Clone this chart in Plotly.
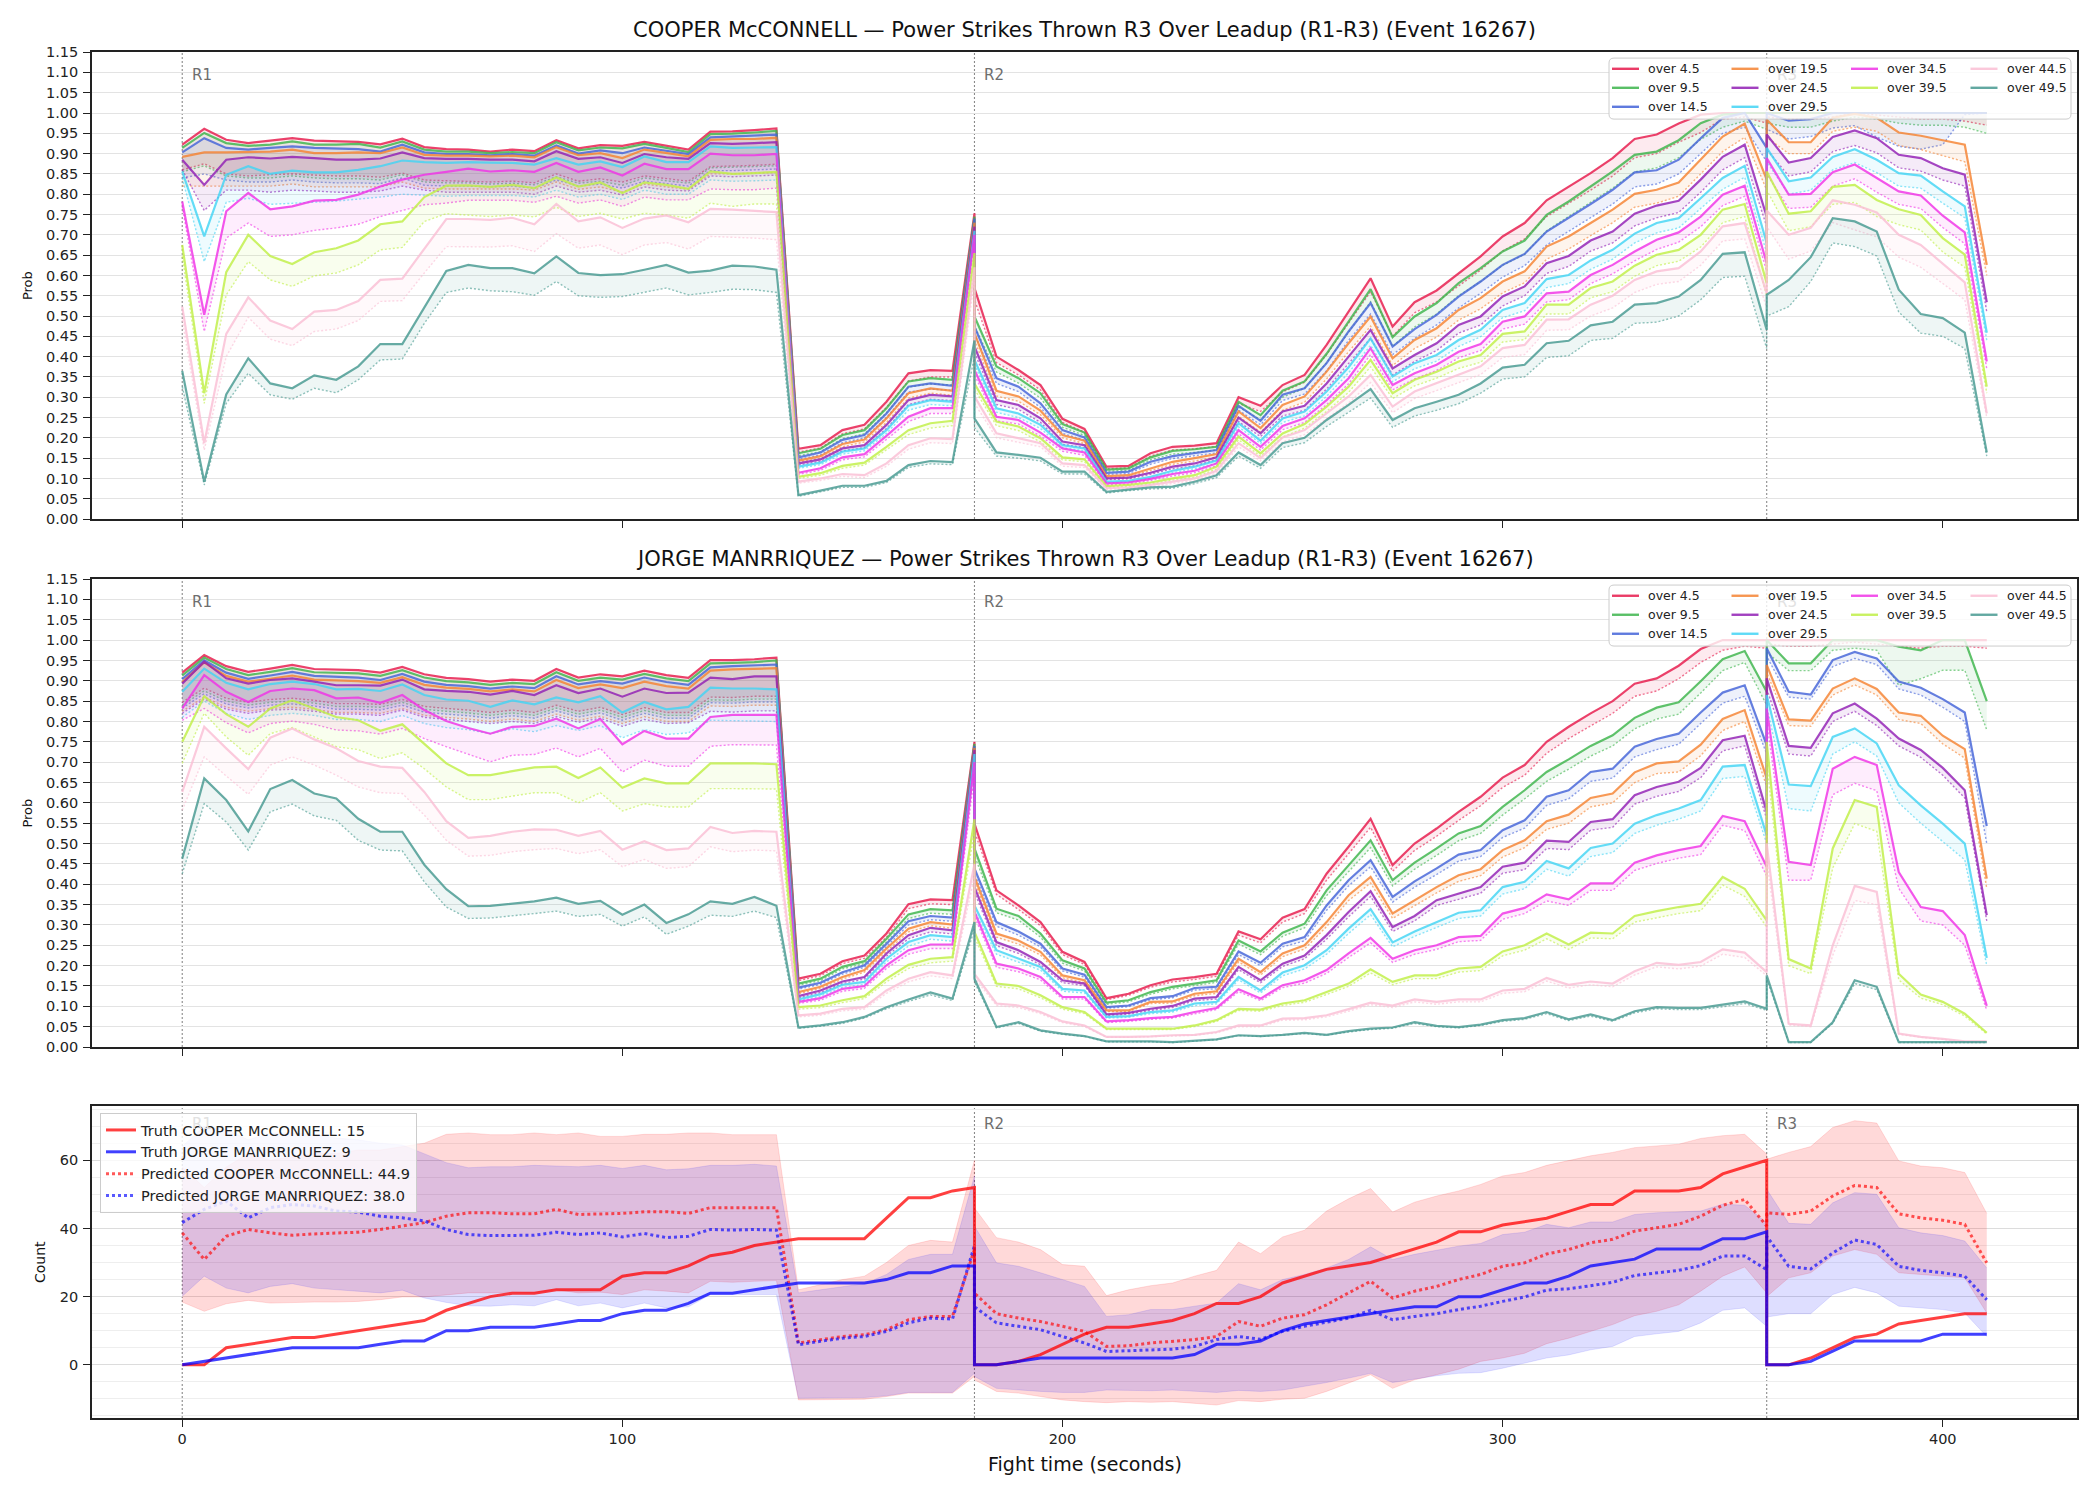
import plotly.graph_objects as go

# ---------------- data ----------------
T = [0,5,10,15,20,25,30,35,40,45,50,55,60,65,70,75,80,85,90,95,100,105,110,115,120,125,130,135,140,145,150,155,160,165,170,175,180,
     180,185,190,195,200,205,210,215,220,225,230,235,240,245,250,255,260,265,270,275,280,285,290,295,300,305,310,315,320,325,330,335,340,345,350,355,360,
     360,365,370,375,380,385,390,395,400,405,410]

THRESHOLDS = ["over 4.5", "over 9.5", "over 14.5", "over 19.5", "over 24.5",
              "over 29.5", "over 34.5", "over 39.5", "over 44.5", "over 49.5"]
COLORS = ["#e6194b", "#3cb44b", "#4363d8", "#f58231", "#911eb4",
          "#42d4f4", "#f032e6", "#bfef45", "#fabed4", "#469990"]

# ---- COOPER McCONNELL (top panel): solid = model prob, dotted = reference prob ----
c_s45 = [.922,.961,.934,.926,.932,.938,.932,.930,.929,.923,.937,.916,.911,.910,.905,.910,.906,.933,.913,.921,.919,.929,.919,.910,.954,.955,.958,.962,.173,.182,.219,.232,.289,.359,.367,.365,.753,
         .569,.400,.367,.330,.247,.222,.129,.131,.162,.178,.181,.187,.300,.279,.330,.355,.429,.511,.593,.474,.534,.563,.606,.647,.696,.729,.785,.819,.852,.889,.936,.947,.974,.996,1.0,1.0,1.0,
         1.0,1.0,1.0,1.0,1.0,1.0,1.0,1.0,1.0,1.0,1.0]
c_s95 = [.914,.951,.926,.919,.922,.930,.922,.922,.924,.915,.930,.910,.905,.905,.901,.904,.901,.928,.908,.915,.913,.924,.914,.904,.948,.949,.952,.956,.162,.173,.207,.219,.273,.339,.347,.343,.745,
         .499,.376,.347,.310,.234,.213,.122,.125,.152,.168,.172,.178,.289,.256,.316,.339,.407,.486,.566,.448,.499,.532,.581,.618,.659,.686,.749,.782,.819,.856,.897,.905,.933,.975,.996,1.0,1.0,
         1.0,1.0,1.0,1.0,1.0,1.0,1.0,1.0,1.0,1.0,1.0]
c_s145 = [.903,.938,.914,.910,.914,.918,.914,.912,.911,.905,.922,.903,.899,.899,.896,.899,.895,.920,.900,.908,.901,.915,.907,.899,.940,.942,.944,.947,.152,.164,.195,.207,.260,.326,.334,.328,.740,
          .474,.347,.326,.285,.219,.201,.114,.117,.141,.155,.162,.170,.279,.242,.306,.322,.384,.462,.532,.425,.468,.503,.548,.585,.626,.653,.708,.741,.776,.811,.854,.859,.885,.938,.988,1.0,.914,
          1.0,.981,.985,1.0,1.0,1.0,1.0,1.0,1.0,1.0,1.0]
c_s195 = [.892,.903,.903,.904,.905,.910,.901,.901,.903,.901,.915,.897,.895,.895,.893,.895,.891,.916,.896,.901,.889,.910,.901,.893,.934,.936,.936,.939,.144,.155,.185,.196,.248,.310,.322,.316,.730,
          .458,.316,.302,.267,.207,.193,.106,.108,.125,.141,.150,.160,.265,.224,.281,.302,.363,.433,.499,.396,.441,.470,.515,.544,.585,.610,.671,.696,.729,.762,.801,.811,.829,.885,.942,.974,.836,
          .984,.928,.928,.988,.998,.988,.952,.944,.933,.922,.626]
c_s245 = [.885,.823,.885,.891,.888,.892,.889,.885,.885,.888,.903,.889,.887,.887,.885,.885,.881,.906,.887,.891,.877,.899,.891,.887,.926,.924,.926,.928,.137,.147,.174,.182,.232,.293,.306,.302,.720,
          .425,.293,.281,.248,.191,.182,.100,.102,.114,.129,.137,.152,.250,.211,.265,.279,.334,.400,.466,.371,.404,.433,.478,.499,.548,.573,.630,.648,.686,.708,.752,.772,.784,.836,.892,.922,.745,
          .947,.878,.889,.941,.957,.938,.897,.889,.864,.848,.534]
c_s295 = [.856,.696,.848,.869,.850,.858,.854,.854,.860,.869,.883,.879,.877,.879,.878,.877,.873,.889,.873,.881,.867,.893,.879,.879,.918,.914,.915,.916,.129,.139,.166,.174,.219,.279,.293,.289,.710,
          .392,.273,.260,.232,.182,.174,.092,.094,.104,.119,.129,.144,.236,.193,.248,.265,.314,.374,.445,.351,.384,.404,.441,.466,.515,.532,.591,.601,.637,.663,.703,.729,.741,.790,.840,.870,.680,
          .914,.832,.841,.892,.911,.885,.852,.846,.807,.770,.459]
c_s345 = [.782,.503,.758,.803,.763,.770,.784,.786,.799,.819,.836,.848,.855,.863,.856,.859,.855,.877,.855,.866,.846,.875,.862,.862,.900,.896,.896,.899,.114,.125,.152,.160,.205,.252,.273,.273,.700,
          .367,.252,.244,.213,.174,.164,.088,.090,.099,.111,.119,.137,.219,.178,.229,.248,.293,.347,.421,.330,.359,.380,.412,.431,.486,.499,.556,.560,.601,.626,.659,.688,.706,.745,.799,.821,.630,
          .889,.799,.801,.854,.873,.840,.807,.797,.747,.706,.388]
c_s395 = [.675,.310,.608,.700,.648,.628,.657,.667,.686,.726,.733,.793,.821,.822,.818,.823,.815,.841,.819,.829,.803,.829,.823,.813,.856,.850,.852,.855,.104,.113,.131,.139,.178,.219,.236,.242,.655,
          .334,.240,.228,.199,.152,.147,.081,.084,.090,.100,.108,.129,.203,.162,.211,.234,.277,.326,.392,.310,.343,.363,.388,.404,.456,.462,.528,.528,.569,.585,.624,.651,.663,.700,.762,.776,.581,
          .856,.752,.758,.818,.823,.786,.763,.749,.692,.651,.326]
c_s445 = [.523,.187,.456,.546,.489,.468,.511,.515,.537,.589,.592,.667,.739,.739,.737,.742,.726,.776,.733,.743,.717,.740,.748,.731,.764,.762,.759,.756,.092,.100,.111,.108,.137,.182,.199,.197,.620,
          .302,.211,.199,.187,.137,.133,.076,.078,.084,.092,.100,.119,.187,.150,.201,.219,.260,.302,.355,.277,.314,.334,.355,.376,.421,.429,.491,.492,.528,.550,.589,.610,.618,.659,.721,.729,.556,
          .760,.700,.717,.785,.774,.755,.700,.675,.630,.583,.260]
c_s495 = [.365,.092,.307,.396,.334,.322,.354,.343,.376,.431,.431,.522,.611,.626,.618,.618,.605,.647,.606,.601,.603,.614,.626,.607,.612,.624,.622,.614,.059,.070,.082,.082,.094,.133,.143,.140,.440,
          .248,.164,.158,.151,.117,.117,.067,.073,.078,.080,.092,.108,.164,.133,.187,.200,.244,.281,.320,.244,.273,.289,.306,.334,.373,.380,.433,.439,.477,.486,.528,.532,.548,.589,.653,.657,.466,
          .552,.589,.645,.741,.733,.708,.565,.505,.495,.459,.164]

c_d45 = [.86,.875,.85,.845,.848,.85,.847,.845,.845,.842,.852,.835,.833,.832,.83,.832,.828,.85,.832,.838,.83,.845,.838,.832,.868,.869,.871,.874,.165,.175,.21,.222,.275,.34,.35,.35,.74,
         .54,.385,.355,.318,.238,.214,.124,.126,.155,.17,.173,.179,.285,.265,.313,.337,.405,.483,.56,.45,.508,.535,.575,.613,.66,.69,.745,.777,.81,.845,.89,.9,.928,.952,.985,.99,.975,
         .99,.985,.985,.99,1.0,.995,.99,.985,.985,.98,.97]
c_d95 = [.855,.87,.845,.84,.84,.845,.84,.838,.838,.835,.848,.83,.828,.828,.825,.827,.823,.843,.827,.832,.822,.84,.833,.827,.865,.866,.868,.87,.156,.166,.198,.21,.262,.325,.333,.33,.73,
         .475,.362,.335,.298,.226,.206,.118,.12,.146,.16,.164,.17,.276,.245,.3,.322,.385,.46,.535,.425,.473,.505,.55,.585,.625,.652,.71,.745,.78,.815,.855,.865,.89,.935,.965,.98,.96,
         .975,.965,.965,.98,.99,.985,.975,.97,.97,.965,.95]
c_d145 = [.84,.85,.835,.83,.83,.835,.83,.828,.828,.826,.84,.822,.82,.82,.818,.82,.815,.835,.82,.825,.815,.832,.826,.82,.858,.858,.86,.862,.147,.158,.188,.2,.25,.313,.32,.317,.725,
          .455,.334,.314,.275,.211,.194,.11,.112,.135,.149,.156,.163,.268,.232,.292,.308,.365,.44,.505,.405,.445,.478,.52,.556,.596,.624,.675,.708,.742,.776,.818,.825,.85,.9,.95,.965,.88,
          .96,.936,.942,.963,.969,.941,.918,.911,.922,.996,1.0]
c_d195 = [.82,.82,.82,.82,.82,.825,.818,.818,.818,.818,.83,.815,.813,.813,.812,.813,.81,.83,.812,.818,.805,.825,.818,.812,.85,.85,.852,.853,.14,.15,.178,.19,.238,.298,.31,.305,.715,
          .44,.303,.29,.257,.2,.186,.102,.104,.12,.135,.143,.153,.253,.214,.268,.288,.345,.412,.475,.378,.42,.448,.49,.518,.557,.582,.64,.665,.698,.73,.768,.778,.795,.85,.905,.94,.81,
          .94,.9,.9,.955,.965,.955,.92,.91,.895,.88,.6]
c_d245 = [.86,.76,.81,.81,.805,.81,.808,.805,.805,.808,.82,.81,.805,.805,.805,.805,.80,.82,.805,.81,.798,.818,.81,.808,.845,.843,.845,.847,.133,.142,.168,.176,.223,.282,.295,.292,.705,
          .41,.282,.27,.238,.184,.176,.097,.099,.11,.124,.131,.146,.24,.203,.254,.268,.32,.383,.445,.355,.388,.415,.458,.478,.525,.55,.605,.622,.66,.68,.722,.742,.755,.805,.86,.89,.72,
          .91,.845,.855,.905,.92,.902,.865,.857,.835,.82,.51]
c_d295 = [.84,.634,.78,.79,.775,.778,.78,.783,.788,.793,.80,.797,.795,.797,.797,.797,.793,.81,.793,.80,.787,.81,.80,.80,.835,.832,.833,.835,.125,.134,.16,.168,.211,.268,.282,.279,.695,
          .38,.263,.25,.223,.176,.168,.089,.091,.1,.114,.124,.138,.227,.186,.238,.254,.302,.36,.428,.338,.37,.389,.425,.449,.496,.513,.57,.58,.615,.64,.68,.705,.717,.765,.812,.842,.655,
          .88,.8,.81,.86,.878,.853,.82,.815,.778,.742,.44]
c_d345 = [.77,.462,.692,.729,.696,.70,.711,.717,.726,.745,.76,.774,.778,.785,.785,.785,.78,.795,.778,.786,.77,.793,.786,.786,.813,.811,.811,.815,.11,.12,.146,.153,.196,.24,.26,.26,.68,
          .355,.242,.234,.204,.167,.157,.084,.086,.095,.106,.114,.131,.21,.17,.22,.238,.282,.333,.405,.318,.345,.366,.397,.415,.468,.48,.535,.54,.58,.604,.636,.664,.682,.72,.772,.795,.61,
          .85,.765,.768,.82,.838,.805,.775,.765,.718,.678,.37]
c_d395 = [.647,.285,.552,.634,.589,.573,.599,.606,.626,.663,.669,.733,.752,.749,.745,.749,.744,.768,.745,.753,.739,.753,.749,.741,.778,.77,.776,.776,.1,.108,.125,.133,.17,.208,.224,.23,.62,
          .32,.23,.218,.19,.146,.141,.078,.081,.086,.096,.103,.123,.195,.155,.202,.224,.265,.312,.375,.297,.328,.347,.371,.386,.436,.442,.505,.505,.545,.56,.598,.624,.635,.67,.73,.745,.55,
          .81,.71,.72,.775,.78,.745,.725,.712,.658,.62,.31]
c_d445 = [.49,.17,.40,.497,.443,.427,.462,.468,.489,.536,.538,.606,.671,.671,.67,.673,.659,.703,.667,.675,.651,.675,.681,.665,.696,.694,.692,.688,.088,.095,.105,.102,.13,.172,.188,.186,.59,
          .285,.2,.189,.178,.13,.127,.073,.075,.08,.088,.095,.113,.178,.143,.19,.208,.247,.286,.336,.262,.297,.316,.336,.356,.398,.405,.465,.466,.5,.52,.558,.578,.585,.625,.685,.69,.52,
          .72,.64,.66,.73,.712,.695,.645,.62,.58,.54,.25]
c_d495 = [.326,.084,.285,.359,.306,.295,.322,.311,.343,.392,.394,.482,.558,.569,.562,.56,.551,.585,.55,.546,.548,.558,.569,.552,.558,.566,.565,.558,.056,.067,.078,.078,.09,.127,.136,.134,.40,
          .225,.155,.15,.143,.111,.111,.064,.07,.074,.076,.087,.102,.155,.125,.176,.188,.228,.262,.298,.226,.254,.268,.284,.31,.345,.35,.398,.402,.44,.445,.482,.485,.5,.54,.595,.598,.42,
          .50,.523,.585,.68,.671,.648,.51,.458,.45,.42,.155]

# ---- JORGE MANRRIQUEZ (middle panel) ----
j_s45 = [.920,.963,.936,.922,.930,.939,.929,.928,.926,.920,.934,.916,.907,.904,.898,.903,.900,.929,.908,.916,.911,.925,.914,.907,.951,.951,.953,.957,.168,.180,.211,.225,.279,.351,.363,.361,.750,
         .549,.385,.348,.307,.234,.209,.120,.131,.152,.166,.172,.180,.284,.265,.318,.339,.426,.492,.561,.447,.500,.537,.578,.615,.662,.693,.750,.787,.820,.850,.893,.906,.937,.978,1.0,1.0,1.0,
         1.0,1.0,1.0,1.0,1.0,1.0,1.0,1.0,1.0,1.0,1.0]
j_s95 = [.913,.957,.929,.914,.922,.931,.921,.920,.918,.912,.926,.908,.899,.896,.890,.895,.892,.921,.900,.908,.903,.917,.906,.899,.943,.944,.946,.950,.156,.168,.197,.211,.266,.326,.339,.336,.745,
         .488,.340,.322,.279,.213,.193,.109,.115,.135,.148,.156,.164,.262,.235,.281,.303,.385,.447,.508,.410,.453,.488,.525,.543,.590,.631,.676,.707,.740,.766,.809,.834,.847,.899,.953,.973,.873,
         1.0,.943,.943,1.0,1.0,1.0,.984,.975,1.0,1.0,.850]
j_s145 = [.904,.950,.920,.905,.913,.922,.912,.910,.908,.902,.917,.898,.890,.887,.881,.886,.882,.911,.891,.899,.893,.908,.897,.890,.933,.936,.938,.940,.146,.158,.184,.201,.254,.309,.322,.318,.740,
          .439,.307,.284,.254,.193,.178,.098,.102,.120,.125,.145,.148,.235,.207,.254,.270,.348,.410,.459,.369,.407,.439,.473,.484,.533,.557,.615,.631,.676,.684,.738,.757,.770,.822,.871,.889,.742,
          .980,.873,.866,.951,.971,.955,.898,.883,.855,.822,.543]
j_s195 = [.897,.945,.912,.898,.905,.913,.903,.901,.899,.895,.909,.890,.883,.880,.874,.879,.874,.902,.882,.891,.882,.898,.887,.881,.925,.928,.930,.931,.135,.148,.172,.189,.242,.291,.307,.301,.735,
          .418,.279,.262,.234,.176,.164,.090,.090,.111,.112,.131,.137,.217,.184,.230,.250,.307,.373,.418,.328,.361,.393,.422,.437,.484,.508,.555,.571,.612,.623,.675,.697,.702,.743,.806,.828,.660,
          .939,.805,.802,.881,.906,.880,.822,.814,.765,.732,.414]
j_s245 = [.893,.947,.906,.893,.902,.906,.898,.889,.889,.888,.903,.879,.875,.873,.866,.875,.865,.889,.870,.881,.861,.881,.870,.871,.908,.904,.911,.911,.125,.139,.161,.172,.230,.275,.293,.287,.730,
          .393,.258,.238,.209,.164,.156,.080,.084,.094,.101,.119,.123,.197,.164,.205,.225,.275,.332,.383,.295,.322,.361,.377,.393,.443,.453,.507,.504,.553,.560,.619,.639,.652,.686,.754,.765,.578,
          .906,.740,.735,.820,.844,.807,.758,.730,.686,.631,.324]
j_s295 = [.873,.930,.895,.879,.892,.898,.892,.879,.880,.875,.891,.865,.854,.851,.836,.852,.842,.859,.847,.862,.822,.848,.830,.836,.883,.881,.881,.879,.117,.130,.153,.160,.217,.258,.275,.270,.720,
          .348,.238,.217,.197,.143,.139,.074,.076,.086,.090,.107,.111,.172,.139,.183,.201,.238,.291,.339,.257,.284,.307,.330,.336,.393,.406,.457,.439,.489,.500,.549,.570,.586,.607,.689,.693,.520,
          .865,.645,.641,.762,.783,.746,.643,.594,.549,.500,.219]
j_s345 = [.832,.914,.873,.848,.875,.881,.877,.857,.859,.846,.865,.828,.801,.784,.770,.787,.789,.807,.783,.806,.744,.777,.758,.758,.811,.816,.816,.816,.111,.120,.143,.150,.201,.238,.252,.252,.700,
          .332,.205,.193,.172,.123,.123,.063,.066,.071,.074,.086,.096,.142,.119,.152,.164,.189,.230,.268,.217,.238,.250,.270,.273,.328,.342,.375,.363,.402,.402,.453,.471,.484,.494,.568,.555,.443,
          .832,.455,.447,.684,.713,.693,.430,.344,.334,.275,.101]
j_s395 = [.750,.862,.818,.787,.832,.852,.832,.811,.803,.777,.793,.746,.697,.668,.668,.678,.687,.689,.661,.687,.637,.660,.648,.648,.697,.697,.697,.695,.098,.102,.115,.125,.168,.202,.217,.221,.560,
          .283,.156,.150,.127,.098,.086,.045,.045,.045,.045,.053,.066,.094,.092,.107,.115,.135,.156,.191,.160,.176,.176,.193,.197,.235,.250,.279,.252,.281,.279,.322,.334,.344,.352,.418,.389,.311,
          .750,.216,.193,.488,.607,.590,.180,.129,.111,.082,.035]
j_s445 = [.627,.787,.734,.683,.760,.783,.756,.734,.703,.689,.686,.627,.555,.514,.519,.529,.535,.534,.519,.531,.485,.506,.484,.488,.541,.526,.531,.529,.078,.082,.094,.098,.139,.168,.184,.176,.450,
          .180,.107,.102,.086,.063,.053,.025,.025,.026,.029,.030,.037,.053,.053,.070,.071,.078,.093,.109,.102,.117,.111,.117,.117,.139,.143,.170,.153,.161,.156,.186,.207,.202,.209,.240,.232,.184,
          .500,.057,.053,.250,.396,.381,.033,.025,.020,.014,.014]
j_s495 = [.463,.660,.607,.530,.634,.656,.623,.611,.561,.529,.529,.448,.388,.346,.347,.352,.358,.367,.352,.359,.325,.350,.305,.326,.358,.352,.369,.347,.048,.053,.061,.074,.098,.117,.134,.119,.307,
          .168,.049,.061,.041,.033,.027,.014,.014,.014,.012,.016,.019,.029,.027,.030,.035,.030,.039,.045,.048,.061,.052,.049,.055,.066,.071,.086,.068,.080,.066,.088,.098,.096,.096,.104,.112,.094,
          .176,.012,.012,.061,.164,.148,.012,.012,.012,.012,.012]

j_d45 = [.847,.882,.857,.847,.854,.857,.852,.844,.844,.842,.854,.837,.832,.828,.822,.828,.822,.84,.825,.835,.817,.834,.822,.822,.86,.859,.862,.862,.163,.175,.205,.218,.27,.34,.352,.35,.735,
         .53,.375,.338,.298,.227,.203,.116,.127,.147,.16,.166,.174,.275,.256,.307,.328,.41,.475,.54,.432,.483,.518,.557,.593,.638,.668,.722,.758,.79,.82,.862,.875,.905,.945,.975,.985,.98,
         .99,.985,.985,.99,.995,.99,.985,.98,.985,.985,.98]
j_d95 = [.84,.875,.85,.84,.847,.85,.845,.837,.837,.835,.847,.83,.825,.821,.815,.821,.815,.833,.818,.828,.81,.827,.815,.815,.853,.852,.855,.855,.152,.163,.192,.205,.258,.316,.329,.326,.73,
         .47,.33,.312,.27,.206,.187,.105,.111,.13,.143,.151,.159,.253,.227,.272,.293,.372,.432,.49,.396,.437,.471,.507,.525,.57,.61,.653,.683,.715,.74,.782,.806,.818,.87,.925,.945,.84,
         .97,.925,.925,.975,.98,.975,.889,.905,.926,.926,.779]
j_d145 = [.833,.868,.843,.833,.84,.843,.838,.83,.83,.828,.84,.823,.818,.814,.808,.814,.808,.826,.811,.821,.803,.82,.808,.808,.846,.845,.848,.848,.142,.154,.179,.196,.247,.3,.313,.309,.72,
          .425,.297,.275,.246,.187,.172,.095,.099,.116,.121,.14,.143,.227,.2,.246,.261,.336,.396,.443,.356,.393,.424,.457,.468,.515,.538,.594,.61,.653,.661,.713,.731,.744,.795,.845,.862,.72,
          .96,.86,.855,.935,.955,.94,.88,.865,.835,.8,.5]
j_d195 = [.825,.86,.835,.825,.832,.835,.83,.822,.822,.82,.832,.815,.81,.806,.80,.806,.80,.818,.803,.813,.795,.812,.80,.80,.838,.837,.84,.84,.131,.144,.167,.184,.235,.283,.298,.292,.715,
          .405,.27,.253,.226,.17,.158,.087,.087,.107,.108,.126,.132,.209,.177,.222,.241,.296,.36,.403,.316,.348,.379,.407,.421,.467,.49,.535,.55,.59,.6,.65,.672,.676,.716,.778,.8,.64,
          .92,.79,.788,.865,.89,.865,.805,.795,.745,.71,.39]
j_d245 = [.82,.855,.83,.82,.828,.83,.825,.818,.818,.815,.828,.81,.805,.80,.795,.80,.795,.812,.798,.808,.788,.805,.795,.797,.825,.823,.826,.826,.121,.134,.156,.167,.223,.266,.283,.278,.70,
          .38,.249,.23,.202,.158,.151,.077,.081,.09,.097,.114,.118,.19,.158,.198,.217,.265,.32,.37,.284,.31,.348,.363,.378,.427,.436,.488,.485,.533,.54,.597,.616,.628,.662,.728,.74,.56,
          .88,.72,.715,.8,.825,.79,.74,.712,.668,.612,.31]
j_d295 = [.81,.85,.82,.805,.815,.82,.815,.805,.805,.80,.815,.795,.785,.78,.77,.782,.775,.79,.778,.79,.76,.78,.768,.772,.803,.802,.802,.80,.113,.125,.147,.154,.209,.248,.265,.26,.69,
          .335,.228,.208,.189,.137,.133,.071,.073,.082,.086,.102,.106,.165,.133,.175,.192,.228,.279,.325,.246,.272,.294,.316,.322,.376,.389,.437,.42,.468,.478,.525,.545,.56,.58,.66,.665,.50,
          .84,.586,.58,.72,.75,.715,.6,.55,.505,.46,.2]
j_d345 = [.803,.832,.797,.772,.795,.801,.793,.779,.777,.769,.783,.758,.738,.719,.701,.717,.719,.735,.713,.734,.676,.705,.69,.69,.739,.743,.743,.742,.107,.115,.137,.144,.193,.228,.242,.242,.67,
          .32,.196,.185,.165,.118,.118,.06,.063,.068,.071,.082,.092,.136,.114,.146,.157,.181,.22,.256,.208,.228,.24,.259,.262,.314,.328,.359,.348,.385,.385,.434,.451,.464,.473,.545,.532,.42,
          .8,.41,.41,.62,.648,.63,.39,.31,.3,.25,.09]
j_d395 = [.697,.82,.762,.717,.77,.785,.762,.738,.731,.709,.723,.684,.639,.608,.608,.616,.625,.625,.60,.625,.58,.598,.59,.59,.635,.635,.635,.634,.093,.097,.109,.119,.16,.193,.207,.211,.53,
          .27,.149,.143,.121,.093,.082,.043,.043,.043,.043,.05,.063,.09,.088,.102,.11,.129,.149,.182,.153,.168,.168,.184,.188,.224,.238,.266,.24,.268,.266,.307,.318,.328,.335,.398,.37,.295,
          .7,.2,.18,.44,.549,.53,.165,.12,.104,.076,.032]
j_d445 = [.582,.713,.666,.621,.693,.713,.693,.668,.639,.625,.623,.57,.508,.469,.471,.48,.485,.488,.475,.485,.443,.461,.439,.443,.492,.48,.484,.482,.074,.078,.089,.093,.132,.16,.175,.168,.42,
          .17,.102,.097,.082,.06,.05,.024,.024,.025,.027,.029,.035,.05,.05,.066,.067,.074,.088,.104,.097,.111,.105,.111,.111,.132,.136,.162,.145,.153,.148,.177,.197,.192,.199,.228,.22,.175,
          .46,.054,.05,.225,.36,.35,.031,.024,.019,.013,.013]
j_d495 = [.426,.598,.553,.484,.578,.597,.568,.557,.508,.484,.482,.406,.344,.316,.317,.322,.328,.334,.321,.326,.297,.32,.277,.297,.324,.321,.334,.318,.046,.051,.058,.071,.094,.112,.128,.114,.29,
          .16,.047,.058,.039,.031,.026,.013,.013,.013,.011,.015,.018,.028,.026,.029,.033,.029,.037,.043,.046,.058,.05,.047,.053,.063,.068,.082,.065,.076,.063,.084,.094,.092,.092,.099,.107,.09,
          .168,.011,.011,.058,.156,.141,.011,.011,.011,.011,.011]

# ---- counts panel ----
truth_cooper = [0,0,5,6,7,8,8,9,10,11,12,13,16,18,20,21,21,22,22,22,26,27,27,29,32,33,35,36,37,37,37,37,43,49,49,51,52,
                0,0,1,3,6,9,11,11,12,13,15,18,18,20,24,26,28,29,30,32,34,36,39,39,41,42,43,45,47,47,51,51,51,52,56,58,60,
                0,0,2,5,8,9,12,13,14,15,15]
truth_jorge = [0,1,2,3,4,5,5,5,5,6,7,7,10,10,11,11,11,12,13,13,15,16,16,18,21,21,22,23,24,24,24,24,25,27,27,29,29,
               0,0,1,2,2,2,2,2,2,2,3,6,6,7,10,12,13,14,15,16,17,17,20,20,22,24,24,26,29,30,31,34,34,34,37,37,39,
               0,0,1,4,7,7,7,7,9,9,9]
pred_cooper = [38.7,30.9,37.7,39.7,38.7,38,38.4,38.7,38.9,39.7,40.7,41.7,43.6,44.6,44.6,44.3,44.3,45.6,44.1,44.3,44.4,44.9,44.9,44.4,46.1,46.1,46.1,46.1,6.4,7.4,8.3,8.8,10.3,13.2,14.2,14.2,33.8,
               21,15,13.7,12.7,11.3,9.8,5.4,5.6,6.4,6.9,7.4,8.3,12.7,11.3,13.7,14.7,17.6,21.1,24.5,19.6,21.6,23,25,26.5,28.9,29.9,32.5,33.8,35.8,36.8,39.2,40.2,41.2,43.6,46.8,48.5,40.7,
               44.6,44.1,45.1,49.5,52.6,52,44.3,43.1,42.4,41.2,29.9]
pred_jorge = [41.7,45.6,48,43.1,46.1,47,46.6,45.1,44.8,43.6,43.1,42.2,39.7,38.2,37.9,37.9,38,38.9,38.2,38.7,37.5,38.5,37.3,37.7,39.7,39.5,39.7,39.5,5.9,6.9,7.8,8.3,9.8,12.3,13.7,13.4,35,
              17,12.3,11.3,10.3,8.3,6.4,3.9,4.2,4.4,4.6,5.4,7.4,8.3,7.5,9.8,11.3,12.5,13.7,16,13.2,14.2,15,16.2,17.2,18.6,19.9,21.9,22.3,23.2,24.2,26.2,27,27.7,29.1,31.9,31.9,27.9,
              37.7,28.9,28.1,32.8,36.6,35.3,28.9,27.7,27,26,19.1]
cooper_hi = [58,52,58,62,60,61,62,62,63,63,64,65,67.6,68,67.5,67.5,68,67.5,68,67,67,67.6,67.6,68,68,67.5,67.5,67.5,22,23.5,25,26,30,35,36.5,36,60,
             46,37.3,36,33.8,29.4,28.9,20.3,22,23.2,24,26,27.7,36,32.6,37.5,39.5,45.1,48.7,51.7,44.8,47.7,49.5,51,52.9,55.4,56.4,58.5,59.8,61.3,62.3,63.7,64.2,64.7,66.4,67.2,67.6,61.8,
             60.3,62.3,64,69.6,71.6,70.9,59.8,58.3,57.8,56.4,44.4]
cooper_lo = [18.4,15.7,17.9,18.9,18.1,18.3,18.4,18.4,18.6,19.1,19.9,19.9,20.6,21.1,21.1,21.3,21.1,22,21.1,21.3,20.6,22,21.6,21.1,24.5,24.2,24.5,24.7,-10.3,-10.3,-10.3,-10.1,-9.3,-8.3,-8.3,-8.3,-3.4,
             -4.4,-7.8,-8.3,-9.3,-10.3,-10.8,-11.1,-10.8,-11,-10.8,-11.3,-11.8,-10.5,-10.8,-10.1,-9.8,-7.8,-5.4,-2.9,-6.9,-4.4,-2.9,-1.3,1,2,3.4,6.2,7.8,9.8,11.8,14.4,15.7,17.6,21.6,26,28.7,21.1,
             20,25.5,27,31.9,33.8,32.4,27,26.5,26,25.5,15.2]
jorge_hi = [64,70,69,66,68,68,67.5,66.5,66,65,64.5,62,59.3,57.8,58.1,58.1,58.5,58.3,58.1,58.5,57.6,58.5,57.2,57.5,58.5,58.5,58.8,58.3,21.1,22,23,23.8,26.5,30.9,32.4,32.4,55.4,
            40.7,29.9,28.9,27,25,23,14.2,14.7,16.2,16.2,17.2,18.1,23.8,22,25,26.5,28.4,30.9,34.6,30.9,32.4,33.6,34.8,35.6,38.2,38.9,41.2,40.2,41.9,41.9,44.1,44.6,44.8,45.1,47.1,46.8,41.7,
            51.5,41.5,41.2,47.5,50.5,50,40.2,38.7,37.9,36.3,28.4]
jorge_lo = [20.1,26,22.5,21.1,23,23.8,22.5,22,21.6,21.1,21.9,19.6,18.3,17.3,17.2,17.6,17.3,19.1,17.3,18.1,16.7,18.1,16.7,17,20.6,20.6,20.6,20.6,-9.8,-9.8,-9.8,-9.6,-9.1,-8.1,-8.1,-8.1,-2.5,
            -3.4,-6.9,-7.4,-7.8,-8.1,-8.1,-7.4,-7.6,-7.6,-7.4,-7.7,-8.1,-7.5,-7.8,-7.4,-6.4,-5.2,-3.9,-2.5,-5.2,-4.2,-3.2,-2.5,-2.3,-1,0.5,2,2.9,4.4,5.4,8.3,9.1,9.8,12.3,16,16.7,11.3,
            14,15,15,20.6,22.7,21.1,17.2,16.7,16.2,15.2,8.3]

ROUNDS = [0, 180, 360]
ROUND_LABELS = ["R1", "R2", "R3"]

COOPER_SOLID = [c_s45, c_s95, c_s145, c_s195, c_s245, c_s295, c_s345, c_s395, c_s445, c_s495]
COOPER_DOT = [c_d45, c_d95, c_d145, c_d195, c_d245, c_d295, c_d345, c_d395, c_d445, c_d495]
JORGE_SOLID = [j_s45, j_s95, j_s145, j_s195, j_s245, j_s295, j_s345, j_s395, j_s445, j_s495]
JORGE_DOT = [j_d45, j_d95, j_d145, j_d195, j_d245, j_d295, j_d345, j_d395, j_d445, j_d495]

for name, arr in list(zip(["cs"+t for t in THRESHOLDS], COOPER_SOLID)) + list(zip(["cd"+t for t in THRESHOLDS], COOPER_DOT)) \
        + list(zip(["js"+t for t in THRESHOLDS], JORGE_SOLID)) + list(zip(["jd"+t for t in THRESHOLDS], JORGE_DOT)) \
        + [("tc", truth_cooper), ("tj", truth_jorge), ("pc", pred_cooper), ("pj", pred_jorge),
           ("ch", cooper_hi), ("cl", cooper_lo), ("jh", jorge_hi), ("jl", jorge_lo)]:
    assert len(arr) == len(T), f"{name}: {len(arr)} != {len(T)}"

# ---------------- layout helpers ----------------
W, H = 2100, 1500
ML, MR = 92, 23
PW = W - ML - MR
FONT = "DejaVu Sans"
# the rendered page is slightly squeezed vertically; compensate target pixel rows
VOFF, VSCALE = 7.9, 0.9894


def px_x(px):
    return (px - ML) / PW


def px_y(py):
    return 1 - ((py - VOFF) / VSCALE) / H


def rgba(hx, a):
    hx = hx.lstrip("#")
    r, g, b = int(hx[0:2], 16), int(hx[2:4], 16), int(hx[4:6], 16)
    return f"rgba({r},{g},{b},{a})"


def rounded_rect_path(x0p, x1p, y0p, y1p, rad):
    """Rounded rectangle in paper coords from target pixel box (x0p..x1p, y0p..y1p)."""
    X0, X1 = px_x(x0p), px_x(x1p)
    Yt, Yb = px_y(y0p), px_y(y1p)
    rx = rad / PW
    ry = rad / H
    return (f"M {X0 + rx},{Yt} L {X1 - rx},{Yt} Q {X1},{Yt} {X1},{Yt - ry} "
            f"L {X1},{Yb + ry} Q {X1},{Yb} {X1 - rx},{Yb} L {X0 + rx},{Yb} "
            f"Q {X0},{Yb} {X0},{Yb + ry} L {X0},{Yt - ry} Q {X0},{Yt} {X0 + rx},{Yt} Z")


PANELS = [(52, 519), (579, 1047), (1106, 1418)]

fig = go.Figure()


def add_prob_panel(solids, dots, xa, ya):
    for i, thr in enumerate(THRESHOLDS):
        col = COLORS[i]
        fig.add_trace(go.Scatter(x=T, y=dots[i], xaxis=xa, yaxis=ya, mode="lines",
                                 line=dict(color=rgba(col, 0.6), width=1.4, dash="2px,2px"),
                                 showlegend=False, hoverinfo="skip"))
        fig.add_trace(go.Scatter(x=T, y=solids[i], xaxis=xa, yaxis=ya, mode="lines", name=thr,
                                 line=dict(color=rgba(col, 0.82), width=2.2),
                                 fill="tonexty", fillcolor=rgba(col, 0.09),
                                 showlegend=False))


add_prob_panel(COOPER_SOLID, COOPER_DOT, "x", "y")
add_prob_panel(JORGE_SOLID, JORGE_DOT, "x2", "y2")

# counts panel
fig.add_trace(go.Scatter(x=T, y=cooper_lo, xaxis="x3", yaxis="y3", mode="lines",
                         line=dict(color="rgba(255,0,0,0.12)", width=1), showlegend=False, hoverinfo="skip"))
fig.add_trace(go.Scatter(x=T, y=cooper_hi, xaxis="x3", yaxis="y3", mode="lines",
                         line=dict(color="rgba(255,0,0,0.12)", width=1), fill="tonexty",
                         fillcolor="rgba(255,0,0,0.15)", showlegend=False, hoverinfo="skip"))
fig.add_trace(go.Scatter(x=T, y=jorge_lo, xaxis="x3", yaxis="y3", mode="lines",
                         line=dict(color="rgba(0,0,255,0.1)", width=1), showlegend=False, hoverinfo="skip"))
fig.add_trace(go.Scatter(x=T, y=jorge_hi, xaxis="x3", yaxis="y3", mode="lines",
                         line=dict(color="rgba(0,0,255,0.1)", width=1), fill="tonexty",
                         fillcolor="rgba(0,0,255,0.13)", showlegend=False, hoverinfo="skip"))
fig.add_trace(go.Scatter(x=T, y=pred_cooper, xaxis="x3", yaxis="y3", mode="lines",
                         name="Predicted COOPER McCONNELL: 44.9", legendrank=3,
                         line=dict(color="rgba(255,0,0,0.65)", width=3, dash="dot")))
fig.add_trace(go.Scatter(x=T, y=pred_jorge, xaxis="x3", yaxis="y3", mode="lines",
                         name="Predicted JORGE MANRRIQUEZ: 38.0", legendrank=4,
                         line=dict(color="rgba(0,0,255,0.65)", width=3, dash="dot")))
fig.add_trace(go.Scatter(x=T, y=truth_cooper, xaxis="x3", yaxis="y3", mode="lines",
                         name="Truth COOPER McCONNELL: 15", legendrank=1,
                         line=dict(color="rgba(255,0,0,0.75)", width=3)))
fig.add_trace(go.Scatter(x=T, y=truth_jorge, xaxis="x3", yaxis="y3", mode="lines",
                         name="Truth JORGE MANRRIQUEZ: 9", legendrank=2,
                         line=dict(color="rgba(0,0,255,0.75)", width=3)))

# axes
xcommon = dict(range=[-20.5, 430.5], tickvals=[0, 100, 200, 300, 400], ticks="outside", ticklen=7,
               tickwidth=1.3, tickcolor="#222", showline=True, mirror=True, linecolor="#222",
               linewidth=1.6, showgrid=False, zeroline=False,
               tickfont=dict(size=14.5, family=FONT, color="#222"))
ycommon = dict(ticks="outside", ticklen=7, tickwidth=1.3, tickcolor="#222", showline=True, mirror=True,
               linecolor="#222", linewidth=1.6, zeroline=False, showgrid=True, gridcolor="#e3e3e3",
               gridwidth=1, tickfont=dict(size=14.5, family=FONT, color="#222"), ticklabelstandoff=2)

layout = dict(
    width=W, height=H, margin=dict(l=ML, r=MR, t=0, b=0),
    plot_bgcolor="white", paper_bgcolor="white",
    font=dict(family=FONT, color="#222"),
    showlegend=True,
    legend=dict(x=px_x(100), y=px_y(1113), xanchor="left", yanchor="top", traceorder="normal",
                bgcolor="rgba(255,255,255,0.8)", bordercolor="#cccccc", borderwidth=1,
                font=dict(size=14.5, family=FONT, color="#222"), tracegroupgap=0, itemwidth=30),
)
for k, (top, bot) in enumerate(PANELS):
    sfx = "" if k == 0 else str(k + 1)
    xa = dict(xcommon, anchor="y" + sfx, domain=[0, 1], showticklabels=(k == 2))
    if k > 0:
        xa["matches"] = "x"
    layout["xaxis" + sfx] = xa
    ya = dict(ycommon, anchor="x" + sfx, domain=[px_y(bot), px_y(top)])
    if k < 2:
        ya.update(range=[0, 1.15], tick0=0, dtick=0.05, tickformat=".2f")
    else:
        ya.update(range=[-15.6, 75.9], tickvals=[0, 20, 40, 60], gridcolor="#dcdcdc",
                  minor=dict(dtick=5, tick0=0, showgrid=True, gridcolor="#eeeeee", ticks=""))
    layout["yaxis" + sfx] = ya
fig.update_layout(**layout)

shapes = []
annotations = []
# round markers
for k in range(3):
    sfx = "" if k == 0 else str(k + 1)
    for r, lab in zip(ROUNDS, ROUND_LABELS):
        shapes.append(dict(type="line", xref="x" + sfx, yref="y" + sfx + " domain", x0=r, x1=r, y0=0, y1=1,
                           line=dict(color="#8a8a8a", width=1.1, dash="2px,2px"), layer="below"))
        hidden = (k < 2 and lab == "R3") or (k == 2 and lab == "R1")
        annotations.append(dict(xref="x" + sfx, yref="y" + sfx + " domain", x=r + 1.8, y=0.975 if k < 2 else 0.978,
                                text=lab, showarrow=False, xanchor="left", yanchor="top",
                                font=dict(size=15, family=FONT, color="#e2e2e2" if hidden else "#6e6e6e")))

# manual 4-column legends for the probability panels
POS = [(0, 0), (0, 1), (0, 2), (1, 0), (1, 1), (1, 2), (2, 0), (2, 1), (3, 0), (3, 1)]
COLX = [1612, 1731.5, 1851, 1970.5]
for k in range(2):
    top = PANELS[k][0]
    shapes.append(dict(type="path", xref="paper", yref="paper",
                       path=rounded_rect_path(1609, 2071, top + 6, top + 67, 5),
                       fillcolor="rgba(255,255,255,0.8)",
                       line=dict(color="#cccccc", width=1), layer="above"))
    for i, thr in enumerate(THRESHOLDS):
        c, rrow = POS[i]
        yy = px_y(top + 16.7 + 19 * rrow)
        shapes.append(dict(type="line", xref="paper", yref="paper", x0=px_x(COLX[c]), x1=px_x(COLX[c] + 27),
                           y0=yy, y1=yy, line=dict(color=rgba(COLORS[i], 0.85), width=2.4), layer="above"))
        annotations.append(dict(xref="paper", yref="paper", x=px_x(COLX[c] + 34), y=yy, text=thr,
                                showarrow=False, xanchor="left", yanchor="middle",
                                font=dict(size=12.5, family=FONT, color="#222")))

# titles and axis labels
annotations.append(dict(xref="paper", yref="paper", x=0.5, y=px_y(30), xanchor="center", yanchor="middle",
                        showarrow=False, font=dict(size=21, family=FONT, color="#111"),
                        text="COOPER McCONNELL \u2014 Power Strikes Thrown R3 Over Leadup (R1-R3) (Event 16267)"))
annotations.append(dict(xref="paper", yref="paper", x=0.5, y=px_y(559), xanchor="center", yanchor="middle",
                        showarrow=False, font=dict(size=21, family=FONT, color="#111"),
                        text="JORGE MANRRIQUEZ \u2014 Power Strikes Thrown R3 Over Leadup (R1-R3) (Event 16267)"))
annotations.append(dict(xref="paper", yref="paper", x=0.5, y=px_y(1464), xanchor="center", yanchor="middle",
                        showarrow=False, font=dict(size=19, family=FONT, color="#111"),
                        text="Fight time (seconds)"))
for lab, xc, (top, bot), sz in [("Prob", 27.5, PANELS[0], 13), ("Prob", 27.5, PANELS[1], 13),
                                ("Count", 40, PANELS[2], 14)]:
    annotations.append(dict(xref="paper", yref="paper", x=px_x(xc), y=px_y((top + bot) / 2),
                            xanchor="center", yanchor="middle", textangle=-90, showarrow=False,
                            font=dict(size=sz, family=FONT, color="#111"), text=lab))

fig.update_layout(shapes=shapes, annotations=annotations)
fig.write_html("out.html")
